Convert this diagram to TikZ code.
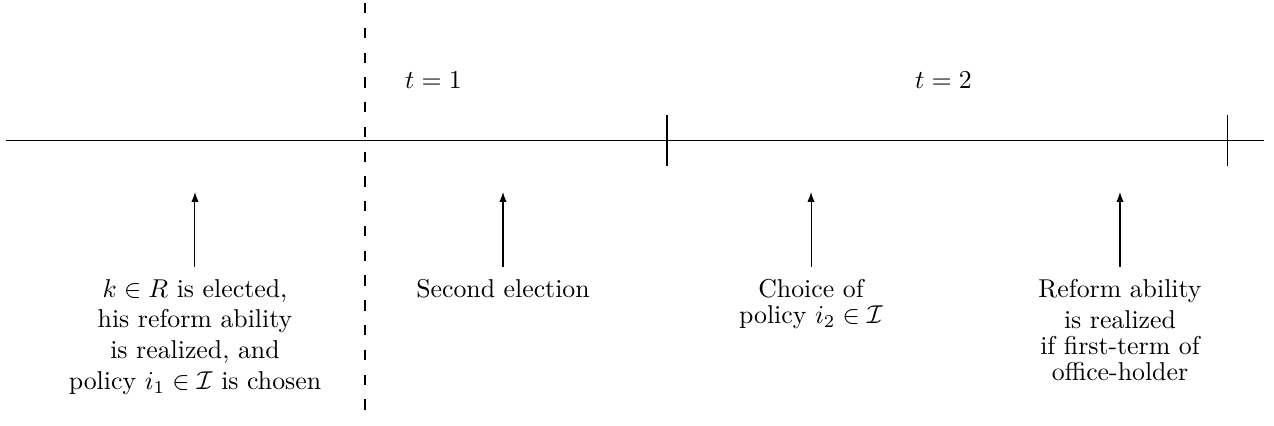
\documentclass[tikz,border=0pt]{standalone}
\usepackage{amsmath,amssymb}
\usepackage{tikz}
\usetikzlibrary{arrows.meta,calc}

\begin{document}
\begin{tikzpicture}[
  >={Latex[length=3.8pt,width=2.8pt]},
  axisline/.style={draw=black,thin},
  tickmark/.style={draw=black,thin},
  divider/.style ={draw=black,thin,dash pattern=on 4pt off 5.6pt},
  period/.style  ={inner sep=2pt},
  evnt/.style    ={anchor=north,inner xsep=2pt,inner ysep=4.5pt},
  flow/.style    ={->,thin,draw=black},
]
\useasboundingbox (-4.972,-3.876) rectangle (12.383,1.914);

% ===================== time axis ==========================================
\coordinate (AxL) at (-4.891,0);
\coordinate (AxR) at (12.247,0);
\draw[axisline] (AxL) -- (AxR);

% end of the first and of the second period
\coordinate (T1) at (4.114,0);
\coordinate (T2) at (11.743,0);
\draw[tickmark] ($(T1)+(0,0.347)$) -- ($(T1)+(0,-0.347)$);
\draw[tickmark] ($(T2)+(0,0.347)$) -- ($(T2)+(0,-0.347)$);

% dashed start line
\coordinate (Dtop) at (0,1.873);
\coordinate (Dbot) at (0,-3.835);
\draw[divider] (Dtop) -- (Dbot);

\node[period] (P1) at (0.933,0.824) {$t=1$};
\node[period] (P2) at (7.881,0.824) {$t=2$};

% ===================== events below the axis ==============================
\node[evnt] (E1) at (-2.316,-1.723)
  {\shortstack{$k\in R$ is elected,\\his reform ability\\is realized, and\\
   policy $i_1\in\mathcal{I}$ is chosen}};
\node[evnt] (E2) at (1.880,-1.723) {\shortstack{Second election}};
\node[evnt] (E3) at (6.076,-1.723)
  {\shortstack{Choice of\\policy $i_2\in\mathcal{I}$}};
\node[evnt] (E4) at (10.285,-1.723)
  {\shortstack{Reform ability\\is realized\\if first-term of\\office-holder}};

\coordinate (A1) at (-2.316,-0.702);
\coordinate (A2) at (1.880,-0.702);
\coordinate (A3) at (6.076,-0.702);
\coordinate (A4) at (10.285,-0.702);

\draw[flow] (E1.north) -- (A1);
\draw[flow] (E2.north) -- (A2);
\draw[flow] (E3.north) -- (A3);
\draw[flow] (E4.north) -- (A4);

\end{tikzpicture}
\end{document}
